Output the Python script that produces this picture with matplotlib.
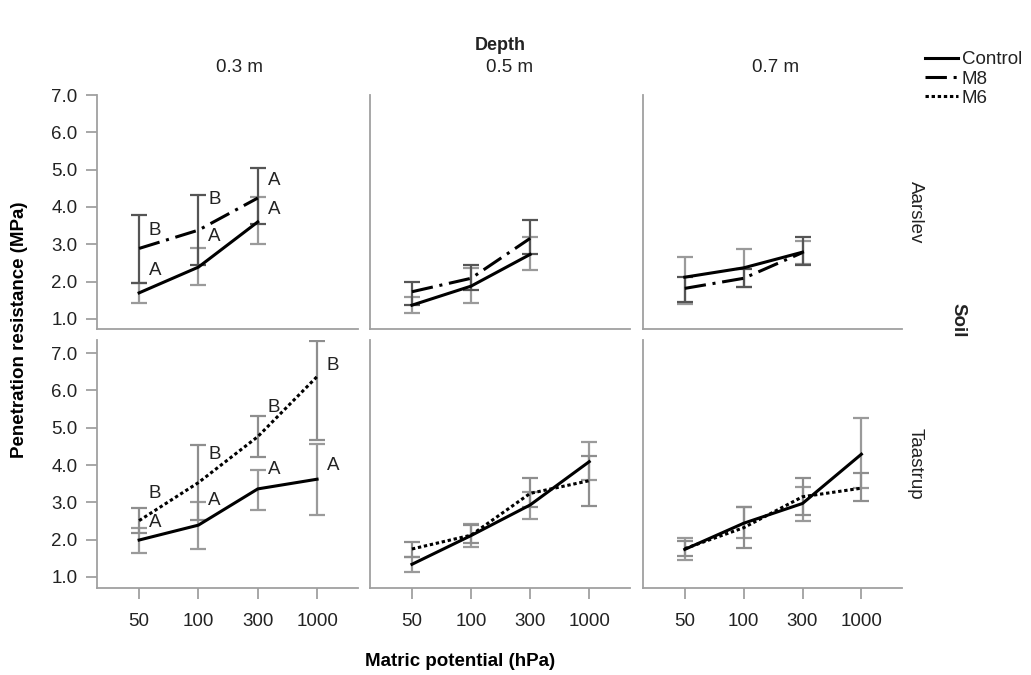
import numpy as np
import matplotlib
matplotlib.use("Agg")
import matplotlib.pyplot as plt
from matplotlib.lines import Line2D

plt.rcParams['font.family'] = ['Liberation Sans', 'DejaVu Sans']

potentials = ['50', '100', '300', '1000']
depths = ['0.3 m', '0.5 m', '0.7 m']
soils = ['Aarslev', 'Taastrup']
y_ticks = [1.0, 2.0, 3.0, 4.0, 5.0, 6.0, 7.0]

# Aarslev (only 50, 100, 300 hPa): mean, lower and upper end of error bar
a03_ctrl = [1.70, 2.39, 3.60]
a03_ctrl_lo = [1.43, 1.91, 3.00]
a03_ctrl_hi = [1.96, 2.90, 4.28]
a03_m8 = [2.89, 3.38, 4.24]
a03_m8_lo = [1.97, 2.45, 3.54]
a03_m8_hi = [3.79, 4.32, 5.05]

a05_ctrl = [1.37, 1.88, 2.73]
a05_ctrl_lo = [1.17, 1.42, 2.31]
a05_ctrl_hi = [1.58, 2.36, 3.20]
a05_m8 = [1.73, 2.09, 3.16]
a05_m8_lo = [1.37, 1.78, 2.73]
a05_m8_hi = [2.00, 2.45, 3.65]

a07_ctrl = [2.12, 2.37, 2.79]
a07_ctrl_lo = [1.40, 1.87, 2.47]
a07_ctrl_hi = [2.65, 2.87, 3.09]
a07_m8 = [1.82, 2.09, 2.78]
a07_m8_lo = [1.46, 1.87, 2.45]
a07_m8_hi = [2.13, 2.34, 3.20]

# Taastrup (50, 100, 300, 1000 hPa)
t03_ctrl = [1.99, 2.39, 3.36, 3.62]
t03_ctrl_lo = [1.63, 1.75, 2.79, 2.66]
t03_ctrl_hi = [2.30, 3.00, 3.88, 4.56]
t03_m6 = [2.51, 3.53, 4.76, 6.37]
t03_m6_lo = [2.17, 2.52, 4.22, 4.67]
t03_m6_hi = [2.86, 4.54, 5.31, 7.33]

t05_ctrl = [1.34, 2.11, 2.93, 4.09]
t05_ctrl_lo = [1.14, 1.81, 2.55, 3.60]
t05_ctrl_hi = [1.53, 2.41, 3.27, 4.61]
t05_m6 = [1.75, 2.12, 3.24, 3.58]
t05_m6_lo = [1.53, 1.90, 2.88, 2.90]
t05_m6_hi = [1.95, 2.38, 3.64, 4.25]

t07_ctrl = [1.74, 2.44, 2.97, 4.29]
t07_ctrl_lo = [1.45, 2.04, 2.51, 3.38]
t07_ctrl_hi = [2.05, 2.88, 3.40, 5.25]
t07_m6 = [1.76, 2.32, 3.15, 3.38]
t07_m6_lo = [1.57, 1.77, 2.66, 3.04]
t07_m6_hi = [1.96, 2.87, 3.64, 3.79]

# significance letters (0.3 m panels) and where they sit
a03_ctrl_letters = ['A', 'A', 'A']
a03_ctrl_letter_y = [2.31, 3.20, 3.92]
a03_m8_letters = ['B', 'B', 'A']
a03_m8_letter_y = [3.38, 4.19, 4.72]
t03_ctrl_letters = ['A', 'A', 'A', 'A']
t03_ctrl_letter_y = [2.45, 3.04, 3.87, 4.00]
t03_m6_letters = ['B', 'B', 'B', 'B']
t03_m6_letter_y = [3.25, 4.27, 5.55, 6.68]

styles = {
    'Control': dict(color='black', lw=2.2, ls='-'),
    'M8': dict(color='black', lw=2.2, ls=(0, (7, 2.2, 1, 2.2))),
    'M6': dict(color='black', lw=2.2, ls=(0, (1.1, 0.9))),
}
bar_colors = {'Control': '#9a9a9a', 'M8': '#555555', 'M6': '#8e8e8e'}

panels = [
    [
        [('Control', a03_ctrl, a03_ctrl_lo, a03_ctrl_hi), ('M8', a03_m8, a03_m8_lo, a03_m8_hi)],
        [('Control', a05_ctrl, a05_ctrl_lo, a05_ctrl_hi), ('M8', a05_m8, a05_m8_lo, a05_m8_hi)],
        [('Control', a07_ctrl, a07_ctrl_lo, a07_ctrl_hi), ('M8', a07_m8, a07_m8_lo, a07_m8_hi)],
    ],
    [
        [('Control', t03_ctrl, t03_ctrl_lo, t03_ctrl_hi), ('M6', t03_m6, t03_m6_lo, t03_m6_hi)],
        [('Control', t05_ctrl, t05_ctrl_lo, t05_ctrl_hi), ('M6', t05_m6, t05_m6_lo, t05_m6_hi)],
        [('Control', t07_ctrl, t07_ctrl_lo, t07_ctrl_hi), ('M6', t07_m6, t07_m6_lo, t07_m6_hi)],
    ],
]
letters = {
    (0, 0): [(a03_ctrl_letters, a03_ctrl_letter_y), (a03_m8_letters, a03_m8_letter_y)],
    (1, 0): [(t03_ctrl_letters, t03_ctrl_letter_y), (t03_m6_letters, t03_m6_letter_y)],
}

W, H = 1031, 675
fig = plt.figure(figsize=(W / 100, H / 100), dpi=100)

col_px = [(97, 358), (370, 630), (643, 902)]
row_px = [(95, 329), (340, 588)]
row_ylim = [(0.732, 7.0), (0.705, 7.35)]
spine_c = '#a0a0a0'
txt_c = '#222222'
fs = 13.5

for r in range(2):
    for c in range(3):
        x0, x1 = col_px[c]
        y0, y1 = row_px[r]
        ax = fig.add_axes([x0 / W, 1 - y1 / H, (x1 - x0) / W, (y1 - y0) / H])
        for name, mean, lo, hi in panels[r][c]:
            x = np.arange(len(mean))
            mean = np.array(mean)
            err = [mean - np.array(lo), np.array(hi) - mean]
            ax.errorbar(x, mean, yerr=err, fmt='none', ecolor=bar_colors[name],
                        elinewidth=1.6, capsize=5.5, capthick=1.6, zorder=2)
        for name, mean, lo, hi in panels[r][c]:
            ax.plot(np.arange(len(mean)), mean, zorder=3, **styles[name])
        for labs, ys in letters.get((r, c), []):
            for i, (lab, yv) in enumerate(zip(labs, ys)):
                ax.text(i + 0.27, yv, lab, ha='center', va='center',
                        fontsize=fs, color=txt_c)
        ax.set_xlim(-0.71, 3.69)
        ax.set_ylim(*row_ylim[r])
        for s in ['top', 'right']:
            ax.spines[s].set_visible(False)
        for s in ['left', 'bottom']:
            ax.spines[s].set_color(spine_c)
            ax.spines[s].set_linewidth(1.3)
        ax.tick_params(colors=spine_c, labelcolor=txt_c, labelsize=fs,
                       length=8, width=1.3)
        ax.tick_params(axis='y', pad=6)
        ax.set_yticks(y_ticks)
        ax.set_yticklabels(['%.1f' % v for v in y_ticks])
        ax.set_xticks(range(len(potentials)))
        ax.set_xticklabels(potentials)
        if c > 0:
            ax.tick_params(axis='y', left=False, labelleft=False)
        if r == 0:
            ax.tick_params(axis='x', bottom=False, labelbottom=False)
        else:
            ax.tick_params(axis='x', pad=10)
        if r == 0:
            fig.text([239, 510, 776][c] / W, 1 - 68 / H, depths[c],
                     ha='center', va='center', fontsize=fs, color=txt_c)
    fig.text(915 / W, 1 - [212, 464][r] / H, soils[r], rotation=-90,
             ha='center', va='center', fontsize=fs, color=txt_c)

fig.text(500 / W, 1 - 46 / H, 'Depth', ha='center', va='center',
         fontsize=fs - 0.5, fontweight='bold', color=txt_c)
fig.text(958 / W, 1 - 320 / H, 'Soil', rotation=-90, ha='center', va='center',
         fontsize=fs, fontweight='bold', color=txt_c)
fig.text(20 / W, 1 - 330 / H, 'Penetration resistance (MPa)', rotation=90,
         ha='center', va='center', fontsize=fs, fontweight='bold', color='black')
fig.text(460 / W, 1 - 662 / H, 'Matric potential (hPa)', ha='center',
         va='center', fontsize=fs, fontweight='bold', color='black')

handles = [Line2D([], [], **styles[k]) for k in ['Control', 'M8', 'M6']]
fig.legend(handles, ['Control', 'M8', 'M6'], loc='upper left',
           bbox_to_anchor=(925 / W, 1 - 51 / H), frameon=False, fontsize=fs,
           handlelength=1.75, handletextpad=0.2, labelspacing=0.12,
           borderpad=0, borderaxespad=0, labelcolor=txt_c)

fig.savefig('out.png', dpi=100)
